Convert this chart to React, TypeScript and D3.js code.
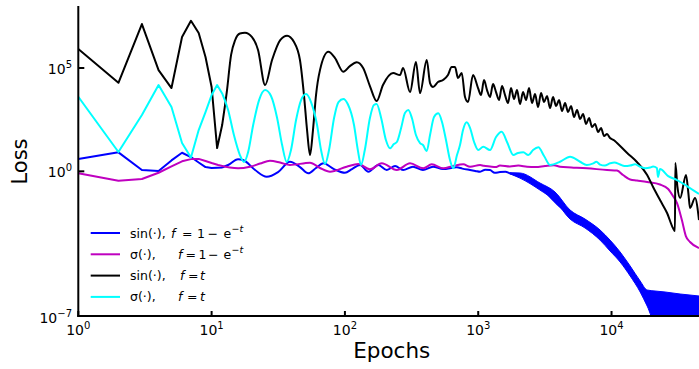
import React from "react";
import * as d3 from "d3";

// ---------- data ----------
const blueEpochs = [1, 2, 3, 4, 5, 6, 7, 8, 9, 10, 11, 12, 13.3, 15.8, 17.2, 21.2, 25.9, 31.5, 38.7, 46.0, 53.1, 60.7, 68.9, 82.8, 100, 113, 130, 150, 178, 206, 238, 273, 324, 385, 458, 544, 690, 760, 869, 950, 1033, 1130, 1225, 1330, 1456, 1600, 1730, 2057, 2323, 2670, 2906, 3458, 4110, 5140, 6550, 8200, 10200, 13100, 16400, 18500, 23100, 32700, 45300];
const blueLoss = [3.94, 8.3, 1.16, 1.03, 3.37, 7.94, 4.92, 2.67, 1.61, 1.45, 1.49, 1.53, 2.02, 3.81, 3.52, 1.16, 0.548, 0.925, 2.91, 1.61, 0.8, 1.45, 2.44, 1.29, 0.855, 1.29, 2.02, 0.956, 2.02, 1.16, 1.8, 1.16, 1.67, 1.16, 1.67, 1.29, 1.56, 1.35, 1.16, 1.05, 0.956, 1.2, 1.16, 0.85, 0.925, 0.95, 0.8, 0.626, 0.474, 0.272, 0.18, 0.059, 0.0194, 6.4e-3, 3.15e-3, 8.3e-4, 1.56e-4, 2.1e-5, 2.26e-6, 7.4e-7, 5.3e-7, 4.25e-7, 3.4e-7];
const blueBandEpochs = [1730, 2057, 2906, 3770, 4885, 6330, 8200, 9750, 11600, 13800, 16400, 18500, 21200, 25200, 32700, 45300];
const blueBandUpper = [0.86, 0.83, 0.272, 0.1, 0.0134, 4.9e-3, 1.45e-3, 4.7e-4, 1.25e-4, 2.62e-5, 4.93e-6, 1.81e-6, 1.62e-6, 1.45e-6, 1.16e-6, 9.3e-7];
const blueBandLower = [0.75, 0.47, 0.124, 0.0366, 4.9e-3, 1.81e-3, 4.7e-4, 1.39e-4, 4.1e-5, 8.6e-6, 1.45e-6, 3.04e-7, 5e-8, 5e-8, 5e-8, 5e-8];

const magentaEpochs = [1, 2, 3, 4, 5, 6, 7, 8, 9, 10, 11.2, 15.8, 19.4, 23.1, 27.4, 32.6, 38.7, 54.7, 65, 77.3, 103, 126, 154, 189, 245, 308, 387, 448, 547, 647, 773, 869, 1033, 1100, 1225, 1350, 1456, 1730, 2000, 2323, 2700, 3170, 3700, 4110, 5000, 6550, 9250, 11000, 12200, 13800, 15500, 18500, 23100, 26600, 28900, 31000, 33700, 36100, 38800, 45300];
const magentaLoss = [0.8, 0.351, 0.424, 0.855, 1.75, 3.05, 3.9, 4.0, 3.15, 2.52, 2.02, 1.4, 1.67, 2.38, 3.26, 2.67, 2.02, 2.61, 1.45, 0.956, 1.67, 2.25, 1.25, 2.44, 1.16, 2.44, 1.4, 2.18, 1.4, 1.8, 2.18, 1.67, 2.02, 1.85, 1.71, 1.6, 1.91, 1.71, 1.9, 1.67, 1.6, 1.8, 1.95, 1.67, 1.55, 1.4, 1.16, 1.09, 0.662, 0.401, 0.359, 0.303, 0.23, 0.139, 0.0638, 0.0293, 4.4e-3, 7.4e-4, 3.8e-4, 1.95e-4];

const blackEpochs = [1, 2, 3, 4, 5, 6, 7, 8, 9, 10, 11, 12, 13, 14, 15, 16.3, 17.8, 20.1, 22.3, 25.2, 28.4, 32.7, 36.8, 41.5, 46.0, 49.3, 52.0, 54.7, 57.6, 60.7, 65.0, 75.1, 84.3, 97.3, 109, 122.6, 137, 154, 173, 193, 230, 259, 273, 308, 341, 366, 411, 435, 458, 499, 544, 593, 632, 670, 705, 752, 796, 838, 914,
  997, 1050, 1105, 1164, 1226, 1291, 1360, 1432, 1508, 1589, 1673, 1762, 1856, 1955, 2059, 2168, 2284, 2405, 2533, 2668, 2810, 2959, 3117, 3283, 3457, 3641, 3835, 4039, 4254, 4480, 4719, 4969, 5234, 5512, 5806, 6114, 6440, 6782, 7143, 7523, 7923, 8344, 8788, 9254, 9743, 10440,
  11000, 13100, 15500, 18500, 20500, 23100, 26100, 28900, 29900, 30100, 31200, 32700, 36200, 37700, 38800, 42300, 45300];
const blackLoss = [8.26e5, 1.93e4, 1.34e7, 7.96e4, 1.07e4, 3.14e6, 1.93e7, 4.91e6, 3.39e5, 1.2e4, 13.4, 174, 6.9e3, 4.3e5, 2.2e6, 4.64e6, 5.07e6, 3.14e6, 7.4e5, 1.5e4, 2.43e5, 2.25e6, 3.63e6, 1.8e6, 2.43e5, 4.9e3, 99.6, 6.15, 99.6, 4.9e3, 7.9e4, 6.1e5, 3.03e5, 6.6e4, 1.24e5, 1.88e5, 9.95e4, 1.34e4, 2.52e3, 1.5e4, 5.7e4, 4.56e4, 9.95e4, 6.9e3, 1.95e5, 6.1e3, 2.43e5, 1.87e4, 1.2e4, 2.09e4, 2.61e4, 4.56e4, 1.11e5, 1.11e5, 3.27e4, 5.7e4, 3.93e3, 2.25e3, 4.56e4,
  1.07e4, 4.91e3, 2.61e4, 8.57e3, 3.93e3, 1.67e4, 6.86e3, 2.81e3, 1.34e4, 4.91e3, 2.01e3, 1.07e4, 3.15e3, 8.57e3, 1.8e3, 6.86e3, 2.81e3, 1.07e4, 2.01e3, 5.5e3, 1.29e3, 6.14e3, 2.25e3, 4.4e3, 1.15e3, 3.93e3, 1.44e3, 2.81e3, 826, 2.01e3, 739, 1.44e3, 424, 925, 339, 592, 194, 379, 139, 194, 79.7, 124, 51.1, 63.8, 40.8, 32,
  23.4, 7.7, 2.82, 0.662, 0.174, 0.0409, 9.6e-3, 1.81e-3, 1.29e-3, 2.51, 0.18, 0.051, 0.662, 0.089, 0.0168, 0.051, 4.4e-3];

const cyanEpochs = [1, 2, 3, 4, 5, 6, 7, 8, 9, 10, 11, 12, 13.3, 14.7, 16.3, 17.5, 18.8, 20.5, 22.7, 25.2, 27.9, 31.0, 33.8, 36.6, 39.4, 43.0, 46.9, 51.1, 55.7, 61.8, 66.2, 71.0, 76.0, 82.9, 89.5, 97.3, 105, 117, 125, 132, 141, 154, 165, 173, 187, 203, 218, 233, 246, 264, 282, 299, 318, 341, 366, 385, 411, 435, 466, 502, 535, 573, 614, 650, 693, 730, 769, 820, 869, 931, 1000, 1091, 1225, 1360, 1500, 1644, 1833, 1990, 2180, 2377, 2578, 2825, 3118, 3458, 4110, 4885, 5808, 6517, 7300, 7700, 8200, 8900, 9750, 10500, 11600, 12500, 13800, 15000, 16400, 18000, 19500, 20500, 21900, 22300, 23100, 26600, 31000, 36800, 45300];
const cyanLoss = [4.06e3, 8.6, 530, 1.5e4, 1.29e3, 23.4, 4.65, 99.5, 740, 4.9e3, 1.5e4, 5.9e3, 925, 57, 6.15, 2.82, 8.6, 174, 2.81e3, 8.6e3, 4.4e3, 379, 18.7, 2.82, 10.7, 303, 2.81e3, 5.5e3, 2.25e3, 174, 10.7, 2.25, 10.7, 379, 2.25e3, 3.15e3, 1.8e3, 174, 10.7, 2.02, 10.7, 379, 1.61e3, 1.8e3, 379, 32.7, 13, 20.9, 27, 124, 662, 925, 379, 57, 23.4, 18.7, 9.6, 57, 424, 640, 243, 32.7, 3.52, 1.4, 6.15, 18.7, 99.5, 235, 124, 26.2, 10.7, 15.5, 10.7, 45.6, 82.4, 26.2, 6.15, 7.7, 8.3, 6.15, 10.7, 14.5, 5.5, 2.02, 2.91, 5.1, 2.91, 2.02, 2.44, 2.9, 2.13, 1.9, 2.44, 2.7, 2.13, 1.8, 1.91, 2.2, 1.67, 1.4, 1.53, 1.7, 1.45, 0.53, 1.29, 0.59, 0.38, 0.194, 0.08];

const xTicks = [1, 10, 100, 1000, 10000];
const xTickExp = ["0", "1", "2", "3", "4"];
const yTicks = [1e-7, 1, 1e5];
const yTickExp = ["−7", "0", "5"];

const legendNames = ["sin(·),", "σ(·),", "sin(·),", "σ(·),"];
const legendColors = ["#0000ff", "#bf00bf", "#000000", "#00ffff"];

// ---------- layout ----------
const W = 699, H = 369;
const L = 78.3, R = 699, T = 6, B = 316;
const SMOOTH_FROM = 12; // epochs after which curves are drawn smooth

const x = d3.scaleLog().domain([1, 4.53e4]).range([L, R]);
const y = d3.scaleLog().domain([1e-7, 1e8]).range([B, T]);

const lineLin = d3.line<[number, number]>().x(d => x(d[0])).y(d => y(d[1]));
const lineSmooth = d3.line<[number, number]>().x(d => x(d[0])).y(d => y(d[1])).curve(d3.curveMonotoneX);
const area = d3.area<[number, number, number]>().x(d => x(d[0])).y0(d => y(d[1])).y1(d => y(d[2])).curve(d3.curveMonotoneX);

const series = [
  { e: blueEpochs, v: blueLoss, c: legendColors[0] },
  { e: magentaEpochs, v: magentaLoss, c: legendColors[1] },
  { e: blackEpochs, v: blackLoss, c: legendColors[2] },
  { e: cyanEpochs, v: cyanLoss, c: legendColors[3] },
];

function seriesPath(e: number[], v: number[]) {
  const pts = d3.zip(e, v) as [number, number][];
  const early = pts.filter(p => p[0] <= SMOOTH_FROM);
  const late = pts.filter(p => p[0] >= early[early.length - 1][0]);
  return (lineLin(early) || "") + (lineSmooth(late) || "");
}

const FONT = "DejaVu Sans, sans-serif";

export default function App() {
  const blueBand = d3.zip(blueBandEpochs, blueBandLower, blueBandUpper) as [number, number, number][];
  const legendY = [233, 254.3, 275.6, 296.9];
  const fs = 12.5;
  const by = 4.5;
  return (
    <svg width={W} height={H} style={{ position: "absolute", left: 0, top: 0, background: "#fff" }} fontFamily={FONT}>
      <defs>
        <clipPath id="plot"><rect x={L} y={T} width={R - L} height={B - T} /></clipPath>
      </defs>
      <g clipPath="url(#plot)">
        <path d={area(blueBand) || ""} fill={legendColors[0]} stroke={legendColors[0]} strokeWidth={1} />
        {series.map((s, i) => (
          <path key={i} d={seriesPath(s.e, s.v)} fill="none" stroke={s.c} strokeWidth={2} strokeLinejoin="round" />
        ))}
      </g>
      {/* spines */}
      <line x1={L} x2={L} y1={T} y2={B + 1} stroke="#000" strokeWidth={2} />
      <line x1={L - 1} x2={R} y1={B} y2={B} stroke="#000" strokeWidth={2} />
      {xTicks.map((t, i) => (
        <g key={i}>
          <line x1={x(t)} x2={x(t)} y1={B} y2={B - 5} stroke="#000" strokeWidth={2} />
          <text x={x(t)} y={335} textAnchor="middle" fontSize={14} fill="#000">
            10<tspan dy={-6} fontSize={10}>{xTickExp[i]}</tspan>
          </text>
        </g>
      ))}
      {yTicks.map((t, i) => (
        <g key={i}>
          <line x1={L} x2={L + 6} y1={y(t)} y2={y(t)} stroke="#000" strokeWidth={2} />
          <text x={72} y={y(t) + 5.5 + (i === 0 ? 1.5 : 0)} textAnchor="end" fontSize={14} fill="#000">
            10<tspan dy={-6} fontSize={10}>{yTickExp[i]}</tspan>
          </text>
        </g>
      ))}
      <text transform="translate(27,161.5) rotate(-90)" textAnchor="middle" fontSize={21} fill="#000">Loss</text>
      <text x={391.7} y={358} textAnchor="middle" fontSize={21.5} fill="#000">Epochs</text>
      {/* legend */}
      {legendNames.map((n, i) => (
        <g key={i} fontSize={fs} fill="#000">
          <line x1={90.7} x2={120} y1={legendY[i]} y2={legendY[i]} stroke={legendColors[i]} strokeWidth={2} />
          <text x={130} y={legendY[i] + by}>{n}</text>
        </g>
      ))}
      <g fontSize={fs} fill="#000">
        <text x={171} y={legendY[0] + by} fontStyle="italic">f</text>
        <text x={182} y={legendY[0] + by}>=</text>
        <text x={197} y={legendY[0] + by}>1</text>
        <text x={207.5} y={legendY[0] + by}>−</text>
        <text x={223.5} y={legendY[0] + by}>e</text>
        <text x={231.5} y={legendY[0] - 1.5} fontSize={9.5}>−<tspan fontStyle="italic">t</tspan></text>

        <text x={178} y={legendY[1] + by} fontStyle="italic">f</text>
        <text x={185.5} y={legendY[1] + by}>=</text>
        <text x={198.5} y={legendY[1] + by}>1</text>
        <text x={208} y={legendY[1] + by}>−</text>
        <text x={223.5} y={legendY[1] + by}>e</text>
        <text x={231.5} y={legendY[1] - 1.5} fontSize={9.5}>−<tspan fontStyle="italic">t</tspan></text>

        <text x={180} y={legendY[2] + by} fontStyle="italic">f</text>
        <text x={188} y={legendY[2] + by}>=</text>
        <text x={200} y={legendY[2] + by} fontStyle="italic">t</text>

        <text x={178} y={legendY[3] + by} fontStyle="italic">f</text>
        <text x={187} y={legendY[3] + by}>=</text>
        <text x={200} y={legendY[3] + by} fontStyle="italic">t</text>
      </g>
    </svg>
  );
}
